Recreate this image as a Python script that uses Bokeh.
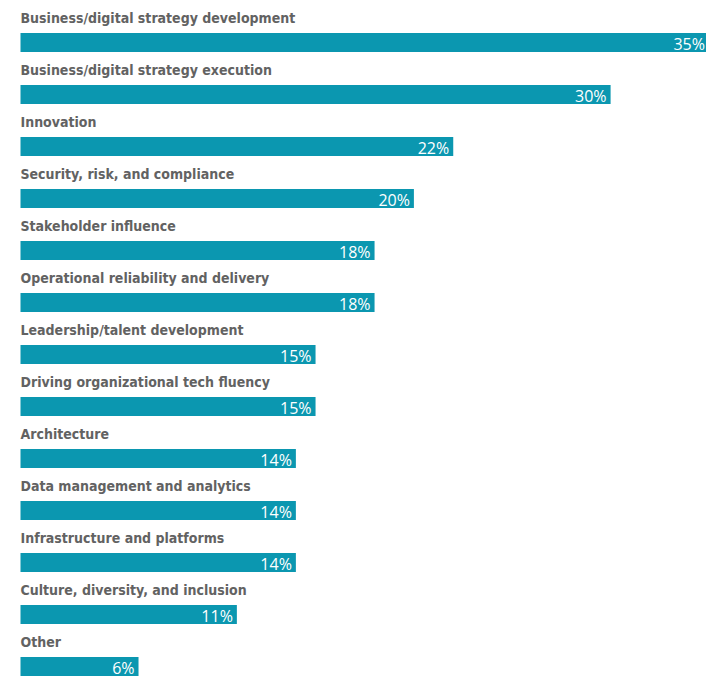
from bokeh.plotting import figure
from bokeh.models import Range1d, ColumnDataSource
from bokeh.core.properties import value
from bokeh.embed import file_html
from bokeh.resources import INLINE

categories = [
    "Business/digital strategy development",
    "Business/digital strategy execution",
    "Innovation",
    "Security, risk, and compliance",
    "Stakeholder influence",
    "Operational reliability and delivery",
    "Leadership/talent development",
    "Driving organizational tech fluency",
    "Architecture",
    "Data management and analytics",
    "Infrastructure and platforms",
    "Culture, diversity, and inclusion",
    "Other",
]
values = [35, 30, 22, 20, 18, 18, 15, 15, 14, 14, 14, 11, 6]
value_labels = [f"{v}%" for v in values]

W, H = 706, 680
k = 19.67       # px per percent
row = 52.0      # px per row
first = 42.0    # px center of first bar

idx = list(range(len(categories)))
src = ColumnDataSource(dict(
    y=idx,
    v=values,
    lab=value_labels,
    cat=categories,
    ly=[i - 25.0 / row for i in idx],
    vy=[i + 1.0 / row for i in idx],
))

p = figure(width=W, height=H, output_backend="svg", toolbar_location=None,
           x_range=Range1d(-20 / k, (W - 20) / k),
           y_range=Range1d((H - first) / row, -first / row),
           min_border=0, outline_line_color=None)
p.axis.visible = False
p.grid.visible = False
p.background_fill_color = "white"
p.border_fill_color = "white"

p.hbar(y="y", left=0, right="v", height=19 / row, source=src,
       fill_color="#0b97b0", line_color=None)

p.text(x=0, y="ly", text="cat", source=src,
       text_font=value("'DejaVu Sans Condensed', 'Liberation Sans Narrow', 'Open Sans'"),
       text_font_style="bold", text_font_size="14px", text_color="#626262",
       text_align="left", text_baseline="middle")

p.text(x="v", y="vy", text="lab", source=src, x_offset=-4,
       text_font=value("'Open Sans'"), text_font_size="16px",
       text_color="white", text_align="right", text_baseline="middle")

open("out.html", "w").write(file_html(p, INLINE))
